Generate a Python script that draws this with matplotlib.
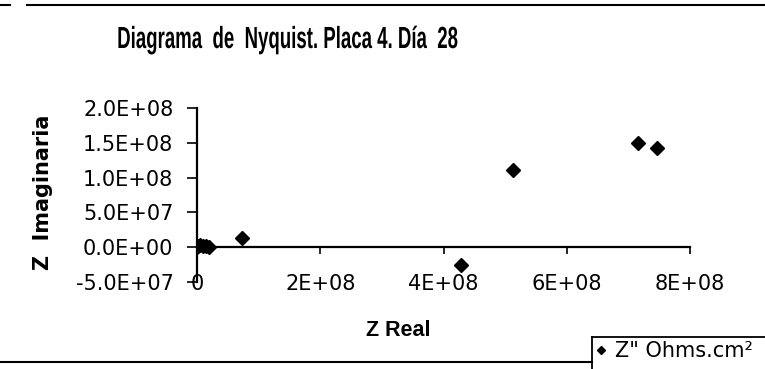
import matplotlib
matplotlib.use("Agg")
import matplotlib.pyplot as plt
from matplotlib.lines import Line2D
from matplotlib.patheffects import AbstractPathEffect
from matplotlib.ticker import FixedLocator, FuncFormatter
from matplotlib.transforms import Affine2D

plt.rcParams['font.family'] = ['DejaVu Sans']

# Impedancia: parte real y parte imaginaria (Ohms.cm2)
z_real = [0.0, 2.0e6, 5.0e6, 9.0e6, 1.4e7, 1.9e7, 7.3e7, 4.28e8, 5.13e8, 7.16e8, 7.46e8]
z_imag = [0.5e6, 1.5e6, 2.5e6, 2.0e6, 1.5e6, 1.0e6, 1.3e7, -2.6e7, 1.11e8, 1.49e8, 1.42e8]

x_ticks = [0, 2e8, 4e8, 6e8, 8e8]
y_ticks = [-5e7, 0, 5e7, 1e8, 1.5e8, 2e8]

titulo = "Diagrama  de  Nyquist. Placa 4. Día  28"
serie = 'Z" Ohms.cm²'


class Estrechar(AbstractPathEffect):
    """Comprime el texto en horizontal alrededor de su centro."""

    def __init__(self, sx):
        super().__init__()
        self.sx = sx

    def draw_path(self, renderer, gc, tpath, affine, rgbFace=None):
        ext = tpath.get_extents()
        cx = (ext.x0 + ext.x1) / 2
        t = Affine2D().translate(-cx, 0).scale(self.sx, 1).translate(cx, 0)
        renderer.draw_path(gc, tpath, t + affine, rgbFace)


fig = plt.figure(figsize=(7.65, 3.69), dpi=100)
ax = fig.add_axes([197 / 765, 1 - 282 / 369, 493 / 765, 174 / 369])

ax.plot(z_real, z_imag, linestyle="none", marker="D", markersize=7,
        color="black", label=serie)

ax.set_xlim(0, 8e8)
ax.set_ylim(-5e7, 2e8)

# eje X cruzando en cero, etiquetas abajo
ax.spines["top"].set_visible(False)
ax.spines["right"].set_visible(False)
ax.spines["bottom"].set_position(("data", 0))
for s in ("left", "bottom"):
    ax.spines[s].set_linewidth(1.6)
ax.xaxis.set_major_locator(FixedLocator(x_ticks))
ax.tick_params(axis="x", direction="out", length=5, width=1.2, labelbottom=False)

sec = ax.secondary_xaxis(0.0)
sec.spines["bottom"].set_visible(False)
sec.xaxis.set_major_locator(FixedLocator(x_ticks))
sec.xaxis.set_major_formatter(FuncFormatter(lambda v, p: "0" if v == 0 else f"{v:.0E}"))
sec.tick_params(axis="x", length=0, pad=-6, labelsize=15)

ax.yaxis.set_major_locator(FixedLocator(y_ticks))
ax.yaxis.set_major_formatter(FuncFormatter(lambda v, p: f"{v:.1E}"))
ax.tick_params(axis="y", direction="out", length=7, width=1.2, pad=10, labelsize=15)

ax.set_ylabel("Z  Imaginaria", fontsize=15, fontweight="bold")
ax.yaxis.set_label_coords(-0.292, 0.517)
fig.text(398 / 765, 1 - 330 / 369, "Z Real", fontsize=15.5, fontweight="bold",
         family="Liberation Sans", ha="center", va="center")
fig.text(287 / 765, 1 - 40 / 369, titulo, fontsize=22, fontweight="bold",
         family="Liberation Sans", ha="center", va="center",
         path_effects=[Estrechar(0.61)])

# leyenda en la esquina inferior derecha
fig.legend(loc="upper left", bbox_to_anchor=(593 / 765, 1 - 338 / 369),
           frameon=False, fontsize=15, handlelength=0.5, handletextpad=0.4,
           borderpad=0.15, borderaxespad=0, markerscale=0.65)
fig.add_artist(Line2D([592 / 765, 1], [1 - 337 / 369] * 2, color="black", lw=1.3))
fig.add_artist(Line2D([592 / 765] * 2, [0, 1 - 337 / 369], color="black", lw=1.3))

# líneas del borde del gráfico
fig.add_artist(Line2D([0, 10 / 765], [1 - 5 / 369] * 2, color="black", lw=1.5))
fig.add_artist(Line2D([27 / 765, 1], [1 - 5 / 369] * 2, color="black", lw=1.5))
fig.add_artist(Line2D([0, 592 / 765], [1 - 362 / 369] * 2, color="black", lw=1.5))

fig.savefig("out.png", dpi=100)
